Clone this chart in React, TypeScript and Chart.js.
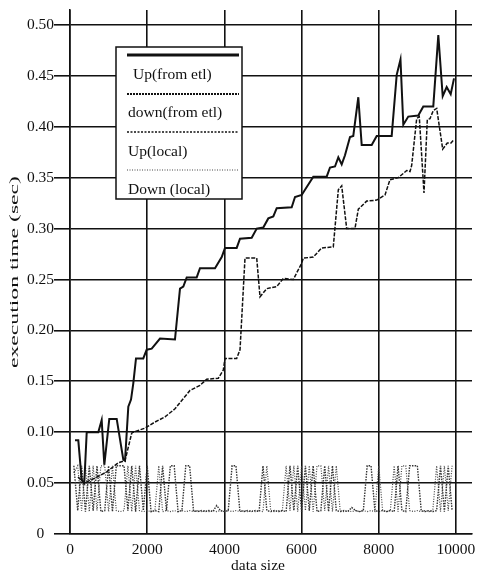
import React, { useEffect, useRef } from 'react';
import { Chart, registerables } from 'chart.js';

Chart.register(...registerables);

const xTickValues = [0, 2000, 4000, 6000, 8000, 10000];
const yTickValues = [0, 0.05, 0.1, 0.15, 0.2, 0.25, 0.3, 0.35, 0.4, 0.45, 0.5];

const seriesNames = ['Up(from etl)', 'down(from etl)', 'Up(local)', 'Down (local)'];
const xTitle = 'data size';
const yTitle = 'execution time (sec)';

const upEtlX = [130, 215, 303, 370, 433, 733, 821, 889, 1018, 1210, 1381, 1425, 1511, 1581, 1640, 1710, 1899, 1987, 2117, 2332, 2720, 2850, 2936, 3024, 3283, 3368, 3757, 3931, 4016, 4319, 4405, 4708, 4838, 5008, 5138, 5268, 5356, 5744, 5830, 6003, 6304, 6651, 6737, 6866, 6952, 7040, 7125, 7255, 7340, 7470, 7558, 7817, 7947, 8335, 8465, 8563, 8636, 8765, 9024, 9154, 9413, 9543, 9657, 9760, 9864, 9950];
const upEtlY = [0.092, 0.092, 0.053, 0.05, 0.1, 0.1, 0.112, 0.068, 0.113, 0.113, 0.073, 0.072, 0.125, 0.132, 0.148, 0.1725, 0.1725, 0.181, 0.182, 0.192, 0.191, 0.241, 0.243, 0.252, 0.252, 0.261, 0.261, 0.272, 0.281, 0.281, 0.29, 0.291, 0.3, 0.301, 0.31, 0.312, 0.32, 0.321, 0.331, 0.333, 0.351, 0.351, 0.36, 0.361, 0.37, 0.363, 0.372, 0.39, 0.391, 0.429, 0.382, 0.382, 0.391, 0.391, 0.451, 0.466, 0.402, 0.41, 0.411, 0.42, 0.42, 0.49, 0.43, 0.439, 0.432, 0.4475];

const downEtlX = [207, 370, 648, 951, 1251, 1425, 1599, 1640, 1943, 2202, 2461, 2720, 3109, 3368, 3542, 3843, 3972, 4016, 4319, 4405, 4490, 4534, 4838, 4923, 5097, 5356, 5527, 5786, 6003, 6045, 6304, 6522, 6822, 6952, 7040, 7169, 7384, 7470, 7687, 7947, 8162, 8291, 8506, 8724, 8810, 8853, 8983, 9050, 9172, 9258, 9328, 9413, 9501, 9657, 9776, 9872, 9950];
const downEtlY = [0.056, 0.05, 0.055, 0.061, 0.07, 0.072, 0.099, 0.1, 0.104, 0.11, 0.115, 0.123, 0.141, 0.146, 0.152, 0.153, 0.161, 0.1725, 0.1725, 0.181, 0.24, 0.271, 0.271, 0.233, 0.241, 0.243, 0.251, 0.25, 0.266, 0.271, 0.272, 0.281, 0.282, 0.338, 0.342, 0.3, 0.3, 0.319, 0.327, 0.328, 0.333, 0.348, 0.35, 0.357, 0.356, 0.362, 0.408, 0.41, 0.335, 0.407, 0.408, 0.416, 0.418, 0.378, 0.384, 0.384, 0.3875];

const localX = [100, 200, 300, 400, 500, 600, 700, 800, 900, 1000, 1100, 1200, 1300, 1400, 1500, 1600, 1700, 1800, 1900, 2000, 2100, 2200, 2300, 2400, 2500, 2600, 2700, 2800, 2900, 3000, 3100, 3200, 3300, 3400, 3500, 3600, 3700, 3800, 3900, 4000, 4100, 4200, 4300, 4400, 4500, 4600, 4700, 4800, 4900, 5000, 5100, 5200, 5300, 5400, 5500, 5600, 5700, 5800, 5900, 6000, 6100, 6200, 6300, 6400, 6500, 6600, 6700, 6800, 6900, 7000, 7100, 7200, 7300, 7400, 7500, 7600, 7700, 7800, 7900, 8000, 8100, 8200, 8300, 8400, 8500, 8600, 8700, 8800, 8900, 9000, 9100, 9200, 9300, 9400, 9500, 9600, 9700, 9800, 9900];
const upLocalY = [0.067, 0.023, 0.067, 0.022, 0.067, 0.023, 0.067, 0.022, 0.023, 0.067, 0.022, 0.067, 0.067, 0.067, 0.023, 0.067, 0.022, 0.067, 0.023, 0.067, 0.022, 0.023, 0.022, 0.067, 0.023, 0.067, 0.067, 0.022, 0.023, 0.067, 0.067, 0.023, 0.022, 0.023, 0.022, 0.023, 0.022, 0.028, 0.023, 0.022, 0.023, 0.067, 0.067, 0.023, 0.022, 0.023, 0.022, 0.023, 0.022, 0.067, 0.023, 0.022, 0.023, 0.022, 0.023, 0.022, 0.067, 0.023, 0.067, 0.022, 0.067, 0.023, 0.067, 0.022, 0.023, 0.067, 0.022, 0.067, 0.023, 0.022, 0.023, 0.022, 0.026, 0.023, 0.022, 0.023, 0.067, 0.067, 0.023, 0.022, 0.023, 0.022, 0.023, 0.022, 0.067, 0.023, 0.022, 0.067, 0.067, 0.067, 0.023, 0.022, 0.023, 0.022, 0.023, 0.067, 0.022, 0.067, 0.023];
const downLocalY = [0.06, 0.067, 0.023, 0.067, 0.022, 0.067, 0.023, 0.067, 0.067, 0.022, 0.067, 0.023, 0.022, 0.023, 0.067, 0.022, 0.067, 0.023, 0.022, 0.023, 0.022, 0.023, 0.067, 0.022, 0.023, 0.022, 0.023, 0.022, 0.023, 0.022, 0.023, 0.022, 0.023, 0.022, 0.023, 0.022, 0.023, 0.022, 0.023, 0.022, 0.023, 0.022, 0.023, 0.022, 0.023, 0.022, 0.023, 0.022, 0.023, 0.022, 0.067, 0.023, 0.022, 0.023, 0.022, 0.067, 0.023, 0.067, 0.022, 0.067, 0.023, 0.067, 0.022, 0.067, 0.067, 0.023, 0.067, 0.022, 0.067, 0.023, 0.022, 0.023, 0.022, 0.023, 0.022, 0.023, 0.022, 0.023, 0.022, 0.067, 0.023, 0.022, 0.023, 0.067, 0.022, 0.067, 0.067, 0.023, 0.022, 0.023, 0.022, 0.023, 0.022, 0.023, 0.067, 0.022, 0.067, 0.023, 0.067];

const FONT = '"Liberation Serif", "Times New Roman", serif';
const INK = '#111111';

const toPoints = (xs: number[], ys: number[]) => xs.map((x, i) => ({ x, y: ys[i] }));

const overlayPlugin = {
  id: 'overlay',
  afterDraw(chart: any) {
    const ctx = chart.ctx as CanvasRenderingContext2D;
    ctx.save();
    // y title (stretched along its length as in the scanned figure)
    ctx.save();
    ctx.translate(15, 272);
    ctx.rotate(-Math.PI / 2);
    ctx.font = `13px ${FONT}`;
    const w = ctx.measureText(yTitle).width;
    ctx.scale(192 / w, 1);
    ctx.fillStyle = INK;
    ctx.textAlign = 'center';
    ctx.textBaseline = 'middle';
    ctx.fillText(yTitle, 0, 0);
    ctx.restore();
    // x title
    ctx.font = `15.5px ${FONT}`;
    ctx.fillStyle = INK;
    ctx.textAlign = 'center';
    ctx.textBaseline = 'middle';
    ctx.fillText(xTitle, 258, 566);

    // legend box
    const bx = 116, by = 47, bw = 126, bh = 152;
    ctx.fillStyle = '#ffffff';
    ctx.fillRect(bx, by, bw, bh);
    ctx.strokeStyle = INK;
    ctx.lineWidth = 1.5;
    ctx.setLineDash([]);
    ctx.strokeRect(bx, by, bw, bh);
    const rows = [
      { ly: 55, ty: 75, tx: 133, width: 3, dash: [] as number[] },
      { ly: 94, ty: 113, tx: 128, width: 2, dash: [2, 1] },
      { ly: 132, ty: 152, tx: 128, width: 1.5, dash: [2, 1.5] },
      { ly: 170, ty: 190, tx: 128, width: 1, dash: [1, 1.5] },
    ];
    rows.forEach((r, i) => {
      ctx.beginPath();
      ctx.setLineDash(r.dash);
      ctx.lineWidth = r.width;
      ctx.strokeStyle = i === 3 ? '#444' : INK;
      ctx.moveTo(127, r.ly);
      ctx.lineTo(239, r.ly);
      ctx.stroke();
      ctx.setLineDash([]);
      ctx.font = `15.5px ${FONT}`;
      ctx.fillStyle = INK;
      ctx.textAlign = 'left';
      ctx.textBaseline = 'middle';
      ctx.fillText(seriesNames[i], r.tx, r.ty);
    });
    ctx.restore();
  },
};

export default function App() {
  const ref = useRef<HTMLCanvasElement | null>(null);
  useEffect(() => {
    document.body.style.margin = '0';
    if (!ref.current) return;
    const chart = new Chart(ref.current, {
      type: 'line',
      data: {
        datasets: [
          {
            label: seriesNames[0],
            data: toPoints(upEtlX, upEtlY),
            borderColor: INK,
            borderWidth: 2,
            pointRadius: 0,
            tension: 0,
          },
          {
            label: seriesNames[1],
            data: toPoints(downEtlX, downEtlY),
            borderColor: INK,
            borderWidth: 1.5,
            borderDash: [4, 1.5],
            pointRadius: 0,
            tension: 0,
          },
          {
            label: seriesNames[2],
            data: toPoints(localX, upLocalY),
            borderColor: '#333',
            borderWidth: 1.4,
            borderDash: [1.5, 1.2],
            pointRadius: 0,
            tension: 0,
          },
          {
            label: seriesNames[3],
            data: toPoints(localX, downLocalY),
            borderColor: '#444',
            borderWidth: 1.2,
            borderDash: [1, 1.5],
            pointRadius: 0,
            tension: 0,
          },
        ],
      },
      options: {
        responsive: false,
        animation: false,
        layout: { padding: { top: 10, right: 12, left: 0, bottom: 0 } },
        plugins: { legend: { display: false }, tooltip: { enabled: false } },
        scales: {
          x: {
            type: 'linear',
            min: 0,
            max: 10416,
            afterBuildTicks: (s: any) => {
              s.ticks = xTickValues.map((v) => ({ value: v }));
            },
            afterFit: (s: any) => {
              s.height = 40;
            },
            grid: { color: INK, lineWidth: 1.6, drawTicks: false },
            border: { color: INK, width: 1.6 },
            ticks: {
              color: INK,
              font: { family: FONT, size: 15.5 },
              padding: 7,
              maxRotation: 0,
              callback: (v: any) => String(v),
            },
          },
          y: {
            type: 'linear',
            min: 0,
            max: 0.5147,
            afterBuildTicks: (s: any) => {
              s.ticks = yTickValues.map((v) => ({ value: v }));
            },
            afterFit: (s: any) => {
              s.width = 70;
            },
            grid: { color: INK, lineWidth: 1.6, tickLength: 16 },
            border: { color: INK, width: 1.6 },
            ticks: {
              color: INK,
              font: { family: FONT, size: 15.5 },
              padding: 0,
              crossAlign: 'center',
              callback: (v: any) => (v === 0 ? '0' : Number(v).toFixed(2)),
            },
          },
        },
      },
      plugins: [overlayPlugin],
    } as any);
    return () => chart.destroy();
  }, []);
  return (
    <div style={{ width: 484, height: 574, background: '#fff' }}>
      <canvas ref={ref} width={484} height={574} style={{ display: 'block' }} />
    </div>
  );
}
